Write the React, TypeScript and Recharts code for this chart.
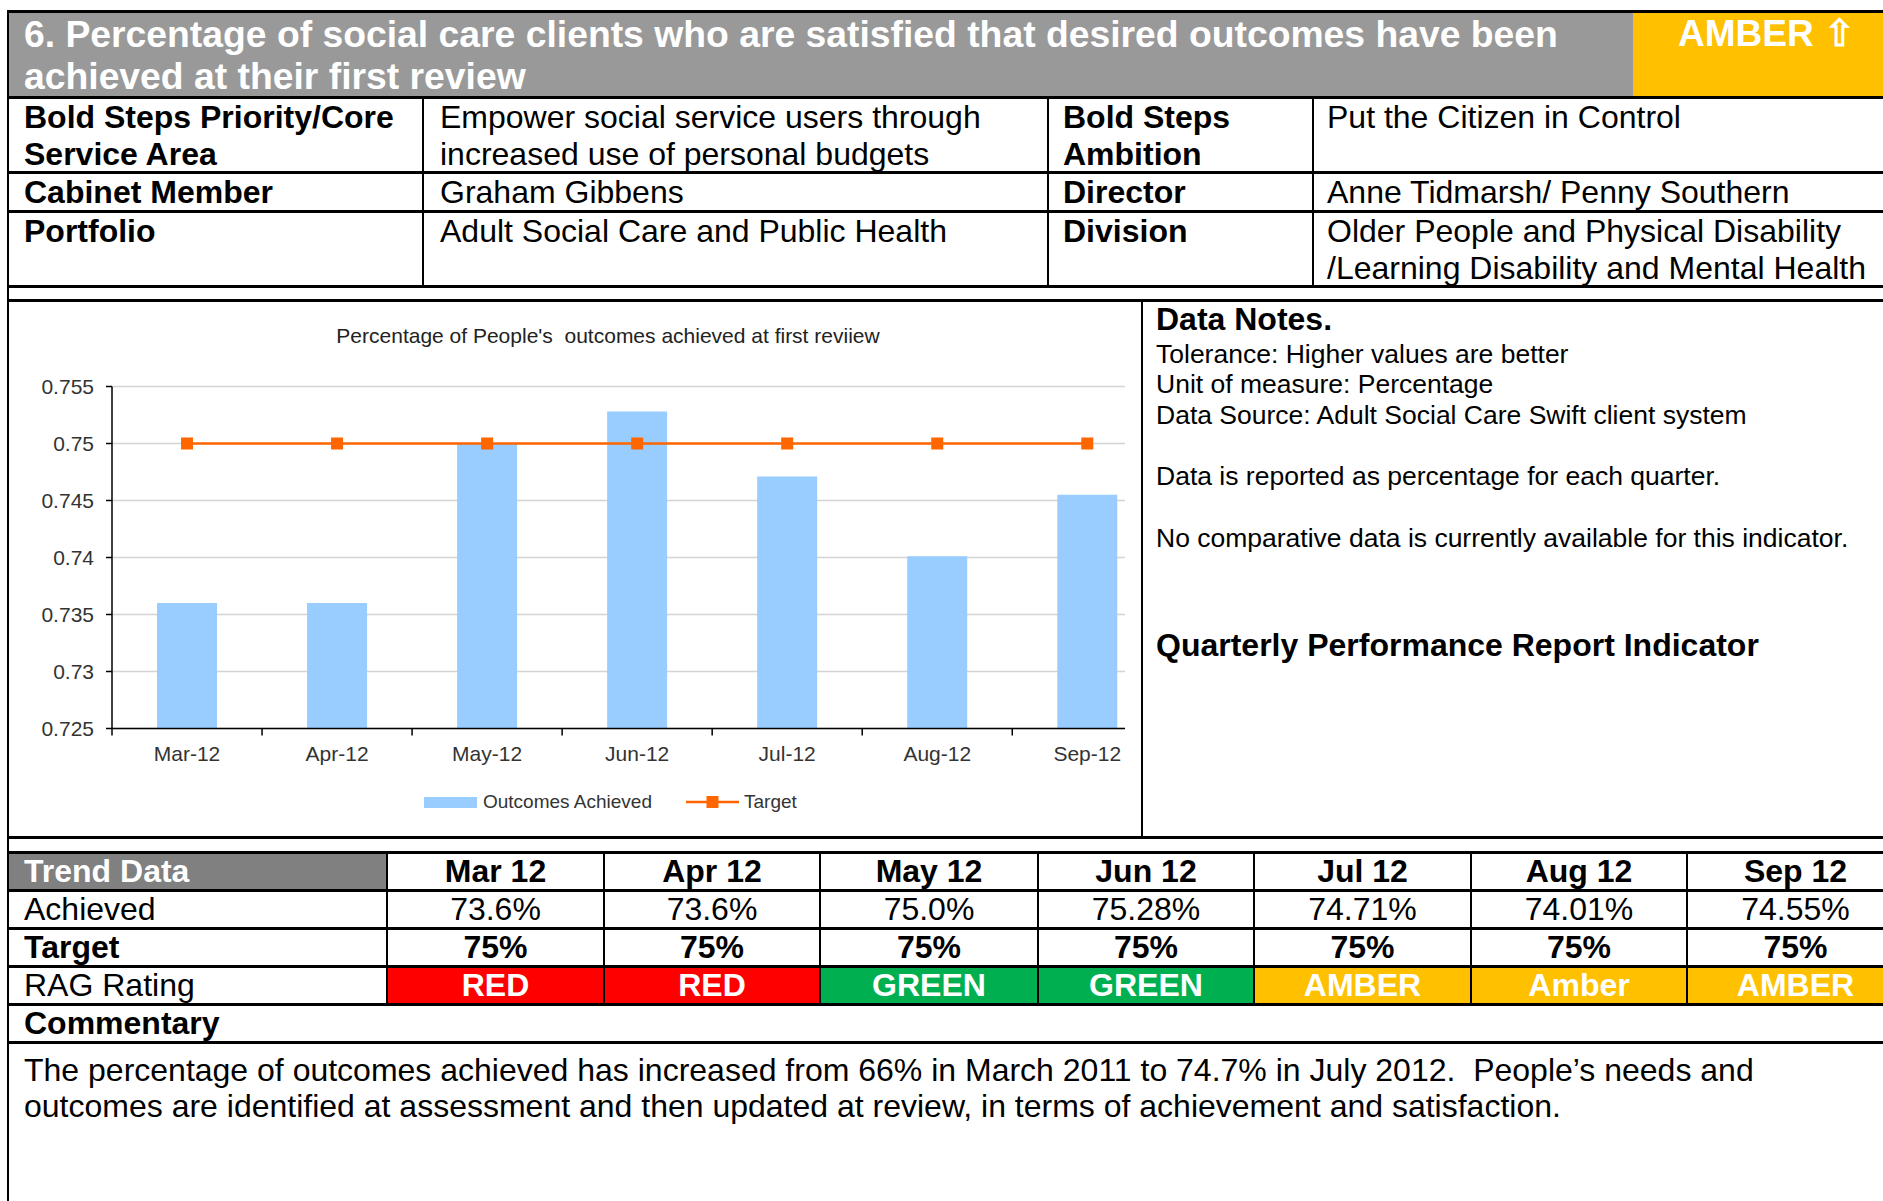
import React from "react";
import {
  ComposedChart,
  Bar,
  Line,
  XAxis,
  YAxis,
  CartesianGrid,
  Legend,
} from "recharts";

// chart values
const months = ["Mar-12", "Apr-12", "May-12", "Jun-12", "Jul-12", "Aug-12", "Sep-12"];
const achieved = [0.736, 0.736, 0.75, 0.7528, 0.7471, 0.7401, 0.7455];
const target = [0.75, 0.75, 0.75, 0.75, 0.75, 0.75, 0.75];
const yTicks = [0.725, 0.73, 0.735, 0.74, 0.745, 0.75, 0.755];

// trend table
const trendMonths = ["Mar 12", "Apr 12", "May 12", "Jun 12", "Jul 12", "Aug 12", "Sep 12"];
const achievedText = ["73.6%", "73.6%", "75.0%", "75.28%", "74.71%", "74.01%", "74.55%"];
const targetText = ["75%", "75%", "75%", "75%", "75%", "75%", "75%"];
const ragText = ["RED", "RED", "GREEN", "GREEN", "AMBER", "Amber", "AMBER"];
const ragFill = ["#FF0000", "#FF0000", "#00B050", "#00B050", "#FFC000", "#FFC000", "#FFC000"];

const chartData = months.map((m, i) => ({
  month: m,
  achieved: achieved[i],
  target: target[i],
}));

const FONT = '"Liberation Sans", Arial, Helvetica, sans-serif';
const CHART_W = 1200;
const CHART_H = 533;
const MARGIN = { top: 84.5, right: 47.7, bottom: 66.5, left: 42 };
const Y_W = 60;
const PLOT_W = CHART_W - MARGIN.left - MARGIN.right - Y_W;

function HL({ y, x1 = 7, x2 = 1883, t = 3 }: any) {
  return (
    <div
      style={{ position: "absolute", left: x1, top: y - t / 2, width: x2 - x1, height: t, background: "#000" }}
    />
  );
}

function VL({ x, y1, y2, t = 2 }: any) {
  return (
    <div
      style={{ position: "absolute", left: x - t / 2, top: y1, width: t, height: y2 - y1, background: "#000" }}
    />
  );
}

function Box({ x, y, w, h, fill }: any) {
  return <div style={{ position: "absolute", left: x, top: y, width: w, height: h, background: fill }} />;
}

function Txt({ x, y, size = 32, bold = false, color = "#000", lh = 37, children, w, center = false }: any) {
  return (
    <div
      style={{
        position: "absolute",
        left: x,
        top: y,
        width: w,
        fontSize: size,
        fontWeight: bold ? 700 : 400,
        color,
        lineHeight: lh + "px",
        whiteSpace: "nowrap",
        textAlign: center ? "center" : "left",
        fontFamily: FONT,
      }}
    >
      {children}
    </div>
  );
}

function MonthTick(props: any) {
  const { x, y, payload } = props;
  const half = payload && payload.offset ? payload.offset : PLOT_W / months.length / 2;
  return (
    <g>
      <line x1={x - half} y1={y} x2={x - half} y2={y + 7} stroke="#000" strokeWidth={1.5} />
      <text x={x} y={y + 25.5} dy="0.35em" textAnchor="middle" fontSize={21} fill="#333" fontFamily={FONT}>
        {payload.value}
      </text>
    </g>
  );
}

function SquareDot(props: any) {
  const { cx, cy } = props;
  if (cx == null || cy == null) return null;
  return <rect x={cx - 6} y={cy - 6} width={12} height={12} fill="#FF6600" />;
}

function LegendBox(props: any) {
  const { payload = [] } = props;
  return (
    <div style={{ display: "flex", alignItems: "center", fontFamily: FONT, fontSize: 19, color: "#333", whiteSpace: "nowrap", height: 24 }}>
      {payload.map((p: any, i: number) => (
        <div key={i} style={{ display: "flex", alignItems: "center", marginRight: i === 0 ? 34 : 0 }}>
          {p.type === "line" ? (
            <svg width={53} height={14} style={{ marginRight: 5 }}>
              <line x1={0} y1={7} x2={53} y2={7} stroke={p.color} strokeWidth={2.5} />
              <rect x={20.5} y={1} width={12} height={12} fill={p.color} />
            </svg>
          ) : (
            <span style={{ display: "inline-block", width: 53, height: 11, background: p.color, marginRight: 6 }} />
          )}
          <span>{p.value}</span>
        </div>
      ))}
    </div>
  );
}

function TrendChart() {
  return (
    <ComposedChart width={CHART_W} height={CHART_H} data={chartData} margin={MARGIN} barCategoryGap="30%">
      <CartesianGrid vertical={false} stroke="#d4d4d4" strokeWidth={1.5} />
      <XAxis
        dataKey="month"
        interval={0}
        tickLine={false}
        tickSize={0}
        tickMargin={0}
        height={40}
        axisLine={{ stroke: "#000", strokeWidth: 1.5 }}
        tick={<MonthTick />}
      />
      <YAxis
        domain={[0.725, 0.755]}
        ticks={yTicks}
        interval={0}
        allowDataOverflow
        width={Y_W}
        tickSize={6}
        tickMargin={12}
        tickFormatter={(v: number) => String(+v.toFixed(3))}
        tick={{ fontSize: 21, fill: "#333", fontFamily: FONT }}
        axisLine={{ stroke: "#000", strokeWidth: 1.5 }}
        tickLine={{ stroke: "#000", strokeWidth: 1.5 }}
      />
      <Legend
        content={<LegendBox />}
        verticalAlign="middle"
        align="center"
        wrapperStyle={{ left: 414, top: 488, width: "auto" }}
      />
      <Bar dataKey="achieved" name="Outcomes Achieved" fill="#99CCFF" isAnimationActive={false} />
      <Line
        dataKey="target"
        name="Target"
        stroke="#FF6600"
        strokeWidth={2.5}
        dot={<SquareDot />}
        activeDot={false}
        isAnimationActive={false}
      />
    </ComposedChart>
  );
}

const colX = [387, 604, 820, 1038, 1254, 1471, 1687, 1904];
const rowY = [852, 890, 928, 966, 1004, 1042];

export default function App() {
  return (
    <div
      style={{
        position: "absolute",
        left: 0,
        top: 0,
        width: 1883,
        height: 1201,
        overflow: "hidden",
        background: "#fff",
        fontFamily: FONT,
      }}
    >
      {/* title bar */}
      <Box x={8} y={12} w={1625} h={84} fill="#999999" />
      <Box x={1633} y={12} w={260} h={84} fill="#FFC000" />
      <Txt x={24} y={12.6} size={37.3} bold color="#fff" lh={42}>
        6. Percentage of social care clients who are satisfied that desired outcomes have been
        <br />
        achieved at their first review
      </Txt>
      <Txt x={1678} y={12.6} size={37} bold color="#fff" lh={42}>
        AMBER ⇧
      </Txt>

      {/* header table */}
      <Txt x={24} y={99} bold>
        Bold Steps Priority/Core
        <br />
        Service Area
      </Txt>
      <Txt x={440} y={99}>
        Empower social service users through
        <br />
        increased use of personal budgets
      </Txt>
      <Txt x={1063} y={99} bold>
        Bold Steps
        <br />
        Ambition
      </Txt>
      <Txt x={1327} y={99}>Put the Citizen in Control</Txt>
      <Txt x={24} y={173.5} bold>Cabinet Member</Txt>
      <Txt x={440} y={173.5}>Graham Gibbens</Txt>
      <Txt x={1063} y={173.5} bold>Director</Txt>
      <Txt x={1327} y={173.5}>Anne Tidmarsh/ Penny Southern</Txt>
      <Txt x={24} y={212.5} bold>Portfolio</Txt>
      <Txt x={440} y={212.5}>Adult Social Care and Public Health</Txt>
      <Txt x={1063} y={212.5} bold>Division</Txt>
      <Txt x={1327} y={212.5}>
        Older People and Physical Disability
        <br />
        /Learning Disability and Mental Health
      </Txt>

      {/* chart */}
      <div style={{ position: "absolute", left: 10, top: 302, width: 1115, height: CHART_H, overflow: "hidden" }}>
        <TrendChart />
      </div>
      <Txt x={308} y={324} w={600} size={21} lh={24} color="#222" center>
        Percentage of People's&nbsp; outcomes achieved at first reviiew
      </Txt>

      {/* data notes */}
      <Txt x={1156} y={301.4} bold lh={36}>Data Notes.</Txt>
      <Txt x={1156} y={338.6} size={26.5} lh={30.7}>
        Tolerance: Higher values are better
        <br />
        Unit of measure: Percentage
        <br />
        Data Source: Adult Social Care Swift client system
        <br />
        <br />
        Data is reported as percentage for each quarter.
        <br />
        <br />
        No comparative data is currently available for this indicator.
      </Txt>
      <Txt x={1156} y={627} bold lh={36}>Quarterly Performance Report Indicator</Txt>

      {/* trend table */}
      <Box x={8} y={rowY[0]} w={colX[0] - 8} h={rowY[1] - rowY[0]} fill="#808080" />
      {ragFill.map((c, i) => (
        <Box key={"rf" + i} x={colX[i]} y={rowY[3]} w={colX[i + 1] - colX[i]} h={rowY[4] - rowY[3]} fill={c} />
      ))}
      <Txt x={24} y={rowY[0]} lh={38} bold color="#fff">Trend Data</Txt>
      <Txt x={24} y={rowY[1]} lh={38}>Achieved</Txt>
      <Txt x={24} y={rowY[2]} lh={38} bold>Target</Txt>
      <Txt x={24} y={rowY[3]} lh={38}>RAG Rating</Txt>
      <Txt x={24} y={rowY[4]} lh={38} bold>Commentary</Txt>
      {trendMonths.map((m, i) => (
        <React.Fragment key={m}>
          <Txt x={colX[i]} w={colX[i + 1] - colX[i]} y={rowY[0]} lh={38} bold center>{m}</Txt>
          <Txt x={colX[i]} w={colX[i + 1] - colX[i]} y={rowY[1]} lh={38} center>{achievedText[i]}</Txt>
          <Txt x={colX[i]} w={colX[i + 1] - colX[i]} y={rowY[2]} lh={38} bold center>{targetText[i]}</Txt>
          <Txt x={colX[i]} w={colX[i + 1] - colX[i]} y={rowY[3]} lh={38} bold center color="#fff">{ragText[i]}</Txt>
        </React.Fragment>
      ))}
      <Txt x={24} y={1052} lh={36}>
        The percentage of outcomes achieved has increased from 66% in March 2011 to 74.7% in July 2012.&nbsp; People’s needs and
        <br />
        outcomes are identified at assessment and then updated at review, in terms of achievement and satisfaction.
      </Txt>

      {/* rules */}
      <HL y={11} />
      <HL y={97} />
      <HL y={172} />
      <HL y={211} />
      <HL y={286} />
      <HL y={300} />
      <HL y={837} />
      {rowY.map((y) => (
        <HL key={"r" + y} y={y} />
      ))}
      <VL x={8} y1={10} y2={1201} />
      <VL x={423} y1={97} y2={286} />
      <VL x={1048} y1={97} y2={286} />
      <VL x={1313} y1={97} y2={286} />
      <VL x={1142} y1={300} y2={837} t={2.5} />
      {colX.slice(0, 7).map((x) => (
        <VL key={"c" + x} x={x} y1={rowY[0]} y2={rowY[4]} />
      ))}
    </div>
  );
}
